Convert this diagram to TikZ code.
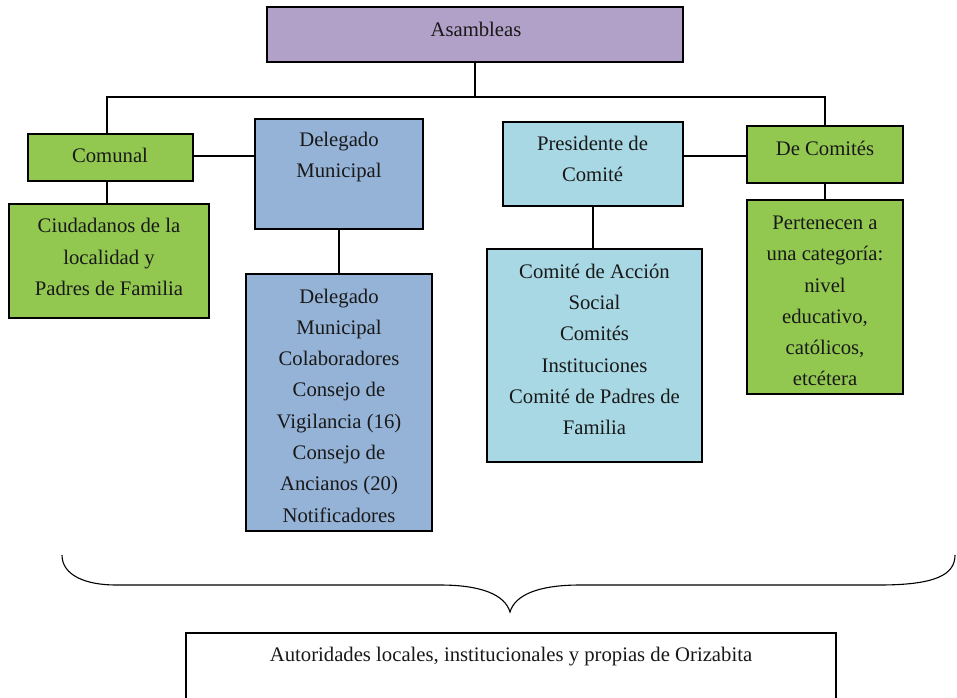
\documentclass[tikz,border=0pt]{standalone}
\usepackage{fontspec}
\setmainfont{Liberation Serif}
\definecolor{cpurp}{HTML}{B1A0C7}
\definecolor{cgreen}{HTML}{92C850}
\definecolor{cblue}{HTML}{95B3D7}
\definecolor{ccyan}{HTML}{A8D8E4}
\tikzset{
  bx/.style={draw=black, line width=2.6pt, rectangle, inner sep=0pt, fill=#1},
  tx/.style={align=center, inner sep=0pt, font=\fontsize{20.7}{31.3}\selectfont, text=black!90},
  conn/.style={draw=black, line width=1.8pt},
}
\begin{document}
\begin{tikzpicture}[x=1pt,y=-1pt]
\useasboundingbox (0,0) rectangle (957,697);
% boxes
\node[bx=cpurp, minimum width=416, minimum height=55] (asam) at (475,34.5) {};
\node[bx=cgreen, minimum width=165, minimum height=47] (comunal) at (110.5,157.5) {};
\node[bx=cgreen, minimum width=200, minimum height=114] (ciud) at (109,261) {};
\node[bx=cblue, minimum width=168, minimum height=110] (delA) at (339,174) {};
\node[bx=cblue, minimum width=186, minimum height=257] (delB) at (339,402.5) {};
\node[bx=ccyan, minimum width=180, minimum height=84] (pres) at (593,164) {};
\node[bx=ccyan, minimum width=215, minimum height=213] (comA) at (594.5,355.5) {};
\node[bx=cgreen, minimum width=156, minimum height=57] (deC) at (825,154.5) {};
\node[bx=cgreen, minimum width=156, minimum height=194] (pert) at (825,297) {};
\node[draw=black, line width=1.8pt, fill=white, inner sep=0pt, minimum width=650, minimum height=66] (aut) at (511,666) {};
% texts
\node[tx] (tasam) at (476,29) {Asambleas};
\node[tx] (tcom) at (110,155) {Comunal};
\node[tx] (tciud) at (109,257) {Ciudadanos de la\\localidad y\\Padres de Familia};
\node[tx] (tdelA) at (339,157) {Delegado\\Municipal};
\node[tx] (tdelB) at (339,405.5) {Delegado\\Municipal\\Colaboradores\\Consejo de\\Vigilancia (16)\\Consejo de\\Ancianos (20)\\Notificadores};
\node[tx] (tpres) at (592.5,159) {Presidente de\\Comité};
\node[tx] (tcomA) at (594.5,349.5) {Comité de Acción\\Social\\Comités\\Instituciones\\Comité de Padres de\\Familia};
\node[tx] (tdeC) at (825,148) {De Comités};
\node[tx] (tpert) at (825,301) {Pertenecen a\\una categoría:\\nivel\\educativo,\\católicos,\\etcétera};
\node[tx] (taut) at (511,657) {Autoridades locales, institucionales y propias de Orizabita};
% connectors
\coordinate (j) at (475,97);
\draw[conn] (asam.south) -- (j);
\draw[conn] (comunal.north -| 107,0) |- (j) -| (deC.north);
\draw[conn] (comunal.south -| 107,0) -- (ciud.north -| 107,0);
\draw[conn] (comunal.east |- 0,156) -- (delA.west |- 0,156);
\draw[conn] (delA.south) -- (delB.north);
\draw[conn] (pres.east |- 0,156) -- (deC.west |- 0,156);
\draw[conn] (pres.south) -- (pres.south |- comA.north);
\draw[conn] (deC.south) -- (pert.north);
% brace
\coordinate (bl) at (62,555);
\coordinate (br) at (955,555);
\coordinate (bt) at (510,612);
\draw[line width=1.1pt] (bl) .. controls (62,575) and (85,585) .. (116,585) -- (440,585)
  .. controls (482,585) and (505,595) .. (bt)
  .. controls (515,595) and (538,585) .. (580,585) -- (879,585)
  .. controls (935,585) and (955,575) .. (br);
\end{tikzpicture}
\end{document}
